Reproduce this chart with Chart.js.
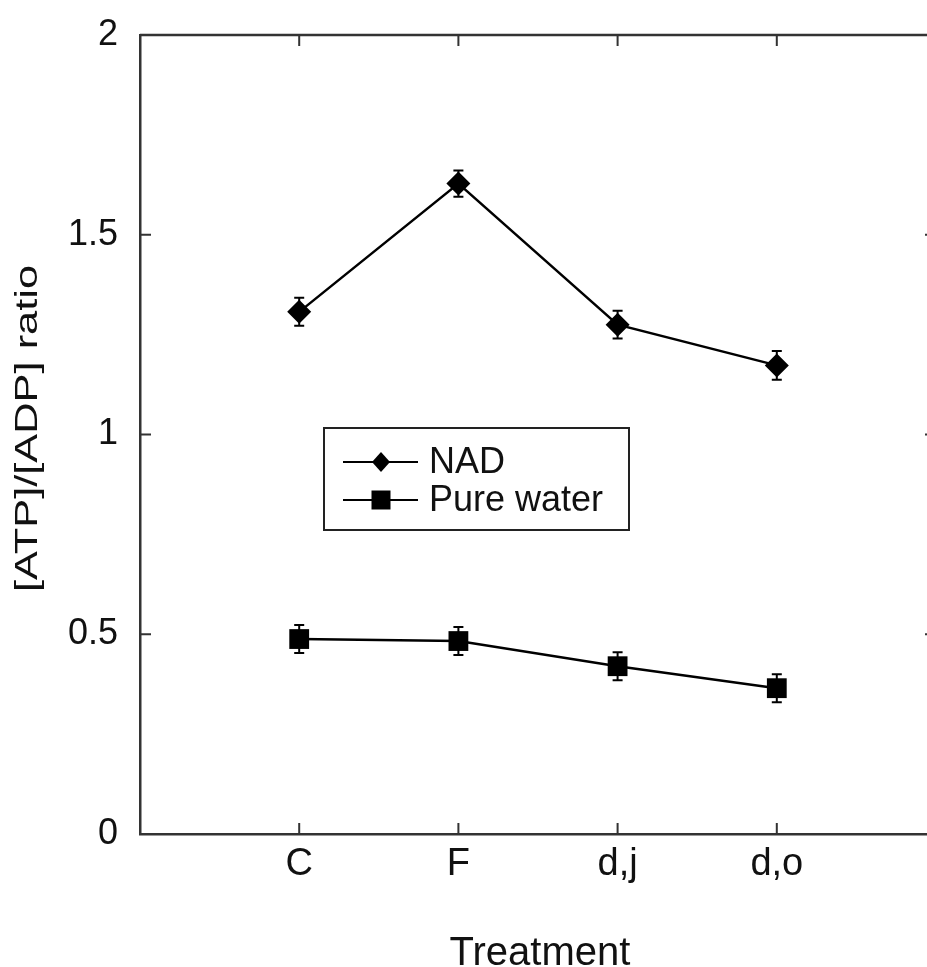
<!DOCTYPE html>
<html lang="en">
<head>
    <meta charset="UTF-8" />
    <title>ATP/ADP ratio by treatment</title>
    <script src="https://cdn.jsdelivr.net/npm/chart.js"></script>
    <style>
        html, body { margin: 0; padding: 0; overflow: hidden; background: #fff; }
        /* a bit wider than the window: the right frame is cut off like the original */
        #myChart { display: block; }
    </style>
</head>
<body>

<canvas id="myChart" width="936" height="967"></canvas>

<script>
    // data
    const categories = ['C', 'F', 'd,j', 'd,o'];
    const nadValues = [1.307, 1.628, 1.275, 1.173];
    const nadErrors = [0.035, 0.033, 0.035, 0.036];
    const waterValues = [0.488, 0.483, 0.42, 0.365];
    const waterErrors = [0.035, 0.035, 0.035, 0.035];
    const yTicks = [0, 0.5, 1, 1.5, 2];
    const xTitle = 'Treatment';
    const yTitle = '[ATP]/[ADP] ratio';
    const seriesNames = ['NAD', 'Pure water'];

    const FONT = '"Liberation Sans", Arial, Helvetica, sans-serif';
    const INK = '#111';
    const FRAME = '#333';

    const toPoints = vals => vals.map((v, i) => ({ x: i + 1, y: v }));

    // error bars, inward ticks, top frame, axis titles and the boxed legend
    const extrasPlugin = {
        id: 'extras',
        beforeDatasetsDraw(chart) {
            const ctx = chart.ctx;
            const xs = chart.scales.x, ys = chart.scales.y;
            ctx.save();
            ctx.strokeStyle = '#000';
            ctx.lineWidth = 2;
            chart.data.datasets.forEach(ds => {
                ds.errors.forEach((e, i) => {
                    const px = xs.getPixelForValue(i + 1);
                    const top = ys.getPixelForValue(ds.data[i].y + e);
                    const bot = ys.getPixelForValue(ds.data[i].y - e);
                    ctx.beginPath();
                    ctx.moveTo(px, top); ctx.lineTo(px, bot);
                    ctx.moveTo(px - 5, top); ctx.lineTo(px + 5, top);
                    ctx.moveTo(px - 5, bot); ctx.lineTo(px + 5, bot);
                    ctx.stroke();
                });
            });
            ctx.restore();
        },
        afterDraw(chart) {
            const ctx = chart.ctx;
            const a = chart.chartArea;
            const xs = chart.scales.x, ys = chart.scales.y;
            const tick = 11;
            ctx.save();
            // top and right frame lines
            ctx.strokeStyle = FRAME;
            ctx.lineWidth = 2.5;
            ctx.beginPath();
            ctx.moveTo(a.left, a.top); ctx.lineTo(a.right, a.top); ctx.lineTo(a.right, a.bottom);
            ctx.stroke();
            // inward ticks
            ctx.lineWidth = 2;
            ctx.beginPath();
            categories.forEach((c, i) => {
                const px = xs.getPixelForValue(i + 1);
                ctx.moveTo(px, a.bottom); ctx.lineTo(px, a.bottom - tick);
                ctx.moveTo(px, a.top); ctx.lineTo(px, a.top + tick);
            });
            yTicks.forEach(v => {
                const py = ys.getPixelForValue(v);
                ctx.moveTo(a.left, py); ctx.lineTo(a.left + tick, py);
                ctx.moveTo(a.right, py); ctx.lineTo(a.right - tick, py);
            });
            ctx.stroke();

            // axis titles
            ctx.fillStyle = INK;
            ctx.font = '40px ' + FONT;
            ctx.textAlign = 'center';
            ctx.textBaseline = 'alphabetic';
            ctx.fillText(xTitle, (a.left + a.right) / 2 + 2, 965);

            ctx.save();
            ctx.translate(28, (a.top + a.bottom) / 2 - 6);
            ctx.rotate(-Math.PI / 2);
            ctx.scale(1.4, 1);
            ctx.font = '31px ' + FONT;
            ctx.textBaseline = 'middle';
            ctx.fillText(yTitle, 0, 0);
            ctx.restore();

            // legend box
            const bx = a.left + 184, by = a.top + 393, bw = 305, bh = 102;
            ctx.strokeStyle = '#222';
            ctx.lineWidth = 2;
            ctx.strokeRect(bx, by, bw, bh);
            const rows = [by + 34, by + 72];
            rows.forEach((ry, k) => {
                ctx.strokeStyle = '#000';
                ctx.lineWidth = 2;
                ctx.beginPath();
                ctx.moveTo(bx + 19, ry); ctx.lineTo(bx + 94, ry);
                ctx.stroke();
                const mx = bx + 57;
                ctx.fillStyle = '#000';
                ctx.beginPath();
                if (k === 0) {
                    ctx.moveTo(mx, ry - 10); ctx.lineTo(mx + 9, ry);
                    ctx.lineTo(mx, ry + 10); ctx.lineTo(mx - 9, ry);
                    ctx.closePath();
                } else {
                    ctx.rect(mx - 9.5, ry - 9.5, 19, 19);
                }
                ctx.fill();
                ctx.fillStyle = INK;
                ctx.font = '36px ' + FONT;
                ctx.textAlign = 'left';
                ctx.textBaseline = 'middle';
                ctx.fillText(seriesNames[k], bx + 105, ry + 1);
            });
            ctx.restore();
        }
    };

    document.addEventListener('DOMContentLoaded', function () {
        const ctx = document.getElementById('myChart').getContext('2d');

        new Chart(ctx, {
            type: 'line',
            data: {
                datasets: [{
                    label: seriesNames[0],
                    data: toPoints(nadValues),
                    errors: nadErrors,
                    borderColor: '#000',
                    backgroundColor: '#000',
                    borderWidth: 2.5,
                    pointStyle: 'rectRot',
                    pointRadius: 12,
                    pointBorderWidth: 0,
                    tension: 0
                }, {
                    label: seriesNames[1],
                    data: toPoints(waterValues),
                    errors: waterErrors,
                    borderColor: '#000',
                    backgroundColor: '#000',
                    borderWidth: 2.5,
                    pointStyle: 'rect',
                    pointRadius: 14,
                    pointBorderWidth: 0,
                    tension: 0
                }]
            },
            options: {
                responsive: false,
                animation: false,
                devicePixelRatio: 1,
                layout: { autoPadding: false, padding: { top: 35, right: 0, bottom: 0, left: 0 } },
                plugins: {
                    legend: { display: false },
                    tooltip: { enabled: false }
                },
                scales: {
                    x: {
                        type: 'linear',
                        min: 0,
                        max: 5,
                        afterBuildTicks: scale => {
                            scale.ticks = categories.map((c, i) => ({ value: i + 1 }));
                        },
                        afterFit: scale => { scale.height = 133; },
                        grid: { display: false, drawTicks: false },
                        border: { display: true, color: FRAME, width: 2.5 },
                        ticks: {
                            padding: 8,
                            color: INK,
                            font: { family: FONT, size: 38 },
                            callback: value => categories[value - 1] ?? ''
                        }
                    },
                    y: {
                        min: 0,
                        max: 2,
                        afterBuildTicks: scale => {
                            scale.ticks = yTicks.map(v => ({ value: v }));
                        },
                        afterFit: scale => { scale.width = 140; },
                        grid: { display: false, drawTicks: false },
                        border: { display: true, color: FRAME, width: 2.5 },
                        ticks: {
                            padding: 22,
                            color: INK,
                            // small lineHeight so the top label does not push the plot down
                            font: { family: FONT, size: 36, lineHeight: 0.6 },
                            callback: value => String(value)
                        }
                    }
                }
            },
            plugins: [extrasPlugin]
        });
    });
</script>

</body>
</html>
